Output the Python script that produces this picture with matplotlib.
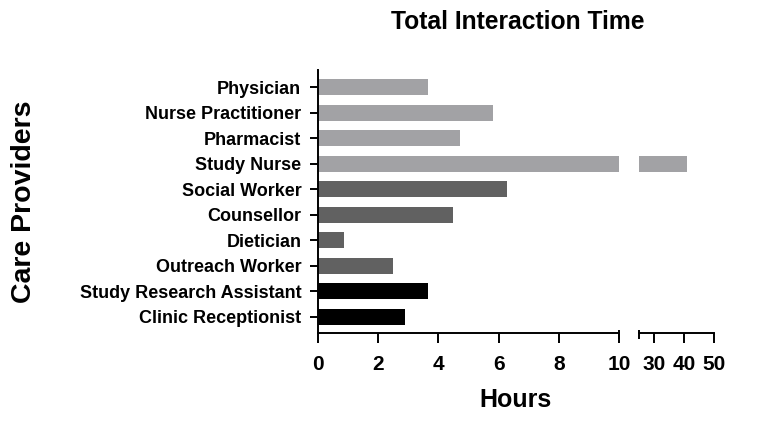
import numpy as np
import matplotlib
matplotlib.use("Agg")
import matplotlib.pyplot as plt
import matplotlib.transforms as mtransforms

plt.rcParams['font.family'] = ['Liberation Sans', 'DejaVu Sans']
plt.rcParams['font.weight'] = 'bold'

# data (hours), top to bottom
providers = ["Physician", "Nurse Practitioner", "Pharmacist", "Study Nurse",
             "Social Worker", "Counsellor", "Dietician", "Outreach Worker",
             "Study Research Assistant", "Clinic Receptionist"]
hours = [3.64, 5.80, 4.73, 40.9, 6.27, 4.50, 0.87, 2.48, 3.65, 2.88]
groups = ["prescriber", "prescriber", "prescriber", "prescriber",
          "support", "support", "support", "support", "admin", "admin"]
group_colors = {"prescriber": "#a2a2a5", "support": "#616161", "admin": "#000000"}

left_ticks = [0, 2, 4, 6, 8, 10]
right_ticks = [30, 40, 50]

fig = plt.figure(figsize=(7.62, 4.22), dpi=100)
ax1 = fig.add_axes([0.4173, 0.2116, 0.395, 0.6225])
ax2 = fig.add_axes([0.8386, 0.2116, 0.0984, 0.6225])

y = np.arange(len(providers))
colors = [group_colors[g] for g in groups]
for ax in (ax1, ax2):
    ax.barh(y, hours, height=0.63, color=colors, edgecolor="none")
    ax.set_ylim(9.63, -0.68)
    ax.spines["top"].set_visible(False)
    ax.spines["right"].set_visible(False)
    ax.spines["bottom"].set_linewidth(1.4)
    ax.spines["left"].set_linewidth(1.4)
    ax.tick_params(axis="x", direction="out", length=7, width=1.4, labelsize=15, pad=9)

ax1.set_xlim(0, 10)
ax1.set_xticks(left_ticks)
ax1.set_yticks(y)
ax1.set_yticklabels(providers, fontsize=13, fontweight="bold")
ax1.tick_params(axis="y", direction="out", length=6, width=1.4, pad=6)
for lbl in ax1.get_xticklabels():
    lbl.set_fontweight("bold")

ax2.set_xlim(25, 50)
ax2.set_xticks(right_ticks)
ax2.spines["left"].set_visible(False)
ax2.set_yticks([])
for lbl in ax2.get_xticklabels():
    lbl.set_fontweight("bold")

# end caps at the axis break
for ax, xv in ((ax1, 10), (ax2, 25)):
    trans = mtransforms.blended_transform_factory(ax.transData, ax.transAxes)
    ax.plot([xv, xv], [-0.025, 0.012], color="black", lw=1.4,
            transform=trans, clip_on=False, solid_capstyle="butt")

fig.text(0.679, 0.947, "Total Interaction Time", ha="center", va="center",
         fontsize=17.7, fontweight="bold")
fig.text(0.676, 0.053, "Hours", ha="center", va="center",
         fontsize=18, fontweight="bold")
fig.text(0.032, 0.521, "Care Providers", ha="center", va="center",
         rotation=90, fontsize=20.5, fontweight="bold")

fig.savefig("out.png", dpi=100)
